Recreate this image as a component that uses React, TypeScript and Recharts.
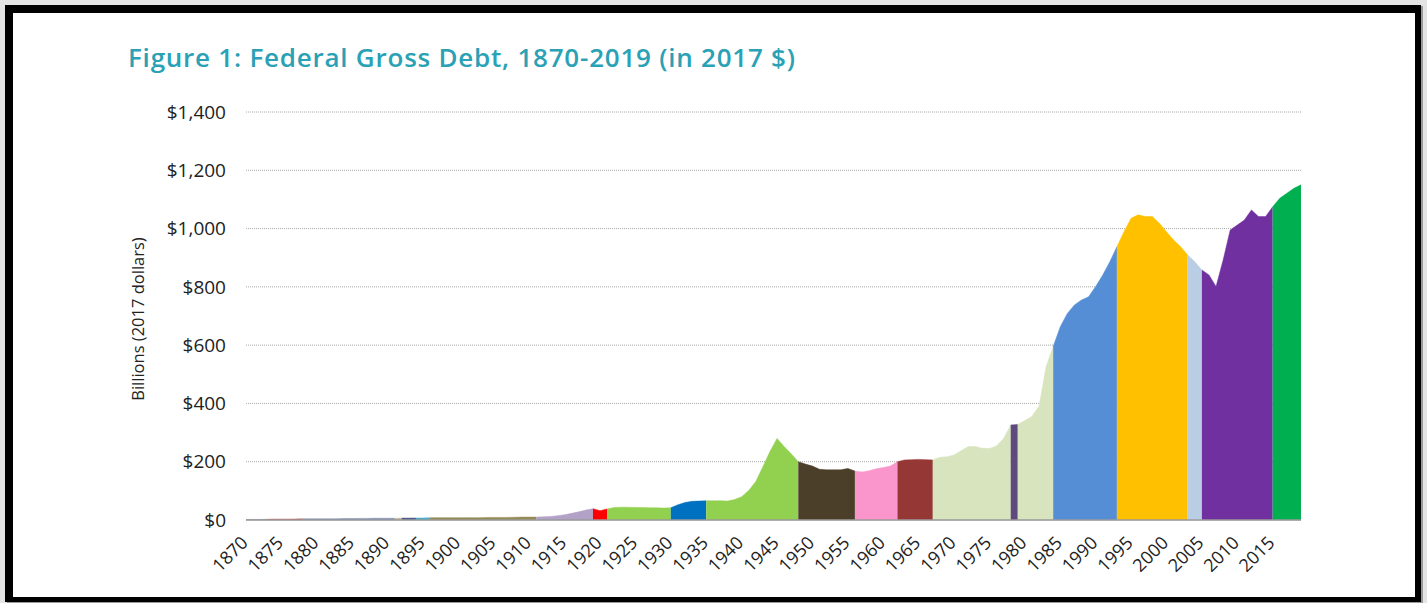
import React from 'react';
import { AreaChart, Area, XAxis, YAxis, CartesianGrid } from 'recharts';

// Federal gross debt, billions of 2017 dollars, one value per year from 1870 to 2019
const firstYear = 1870;
const debt: number[] = [
  // 1870-1879
  2, 2, 2, 2.5, 3, 3, 3, 3.5, 4, 4,
  // 1880-1889
  4, 4, 4, 4.5, 5, 5, 5.5, 5.5, 6, 6,
  // 1890-1899
  6, 6, 6.5, 6.5, 7, 7, 8, 8, 8, 8,
  // 1900-1909
  8, 8, 8, 8, 8.5, 9, 9, 9, 9.5, 10,
  // 1910-1919
  10, 10, 11, 12, 15, 18, 23, 28, 34, 39,
  // 1920-1929
  32, 38, 43, 44, 44, 43, 43, 42, 42, 41,
  // 1930-1939
  42, 52, 60, 64, 65, 66, 66, 66, 65, 70,
  // 1940-1949
  80, 101, 132, 183, 235, 280, 252, 227, 200, 192,
  // 1950-1959
  185, 174, 172, 172, 172, 177, 168, 165, 169, 176,
  // 1960-1969
  180, 185, 200, 206, 207, 208, 207, 206, 215, 217,
  // 1970-1979
  223, 238, 252, 252, 246, 245, 254, 280, 326, 328,
  // 1980-1989
  341, 356, 390, 526, 595, 663, 709, 738, 755, 766,
  // 1990-1999
  801, 841, 886, 938, 989, 1035, 1047, 1041, 1041, 1018,
  // 2000-2009
  989, 961, 938, 909, 886, 858, 841, 801, 892, 995,
  // 2010-2019
  1012, 1029, 1064, 1041, 1041, 1075, 1104, 1121, 1138, 1150,
];
const years: number[] = debt.map((_, i) => firstYear + i);

// Coloured periods (start year of each period; each period runs to the next start)
const periodStarts: number[] = [
  1870, 1873, 1878, 1891, 1892, 1894, 1896, 1911, 1919, 1921, 1930, 1935,
  1948, 1956, 1962, 1967, 1978, 1979, 1984, 1993, 2003, 2005, 2015,
];
const periodColors: string[] = [
  '#8A97AE', '#C0504D', '#7F8FB0', '#C4BD97', '#4F5A8C', '#4BACC6', '#948A54', '#B3A2C7',
  '#FF0000', '#92D050', '#0070C0', '#92D050', '#4B3F2A', '#FA96CC', '#953735', '#D7E4BD',
  '#5F4A7E', '#D7E4BD', '#558ED5', '#FFC000', '#B9CDE5', '#7030A0', '#00B050',
];
const lastYear = 2019;

const xTicks: number[] = [
  1870, 1875, 1880, 1885, 1890, 1895, 1900, 1905, 1910, 1915, 1920, 1925, 1930,
  1935, 1940, 1945, 1950, 1955, 1960, 1965, 1970, 1975, 1980, 1985, 1990, 1995,
  2000, 2005, 2010, 2015,
];
const yTicks: number[] = [0, 200, 400, 600, 800, 1000, 1200, 1400];

const titleText = 'Figure 1: Federal Gross Debt, 1870-2019 (in 2017 $)';
const yLabelText = 'Billions (2017 dollars)';

const FONT = '"Open Sans", "Noto Sans", sans-serif';

const data = years.map((year, i) => {
  const row: Record<string, number | null> = { year };
  periodStarts.forEach((start, k) => {
    const end = k + 1 < periodStarts.length ? periodStarts[k + 1] : lastYear;
    row[`p${k}`] = year >= start && year <= end ? debt[i] : null;
  });
  return row;
});

const XTick = (props: any) => {
  const { x, y, payload } = props;
  const ax = x + 3;
  const ay = y + 16;
  return (
    <text
      x={ax}
      y={ay}
      transform={`rotate(-45, ${ax}, ${ay})`}
      textAnchor="end"
      fontSize={18}
      fontFamily={FONT}
      fill="#222"
    >
      {payload.value}
    </text>
  );
};

const YLabel = (props: any) => {
  const vb = props.viewBox || { x: 0, y: 112, width: 246, height: 408 };
  const cx = vb.x + 137;
  const cy = vb.y + vb.height / 2 + 3;
  return (
    <text
      x={cx}
      y={cy}
      transform={`rotate(-90, ${cx}, ${cy})`}
      textAnchor="middle"
      dominantBaseline="central"
      fontSize={16.5}
      fontFamily={FONT}
      fill="#222"
    >
      {yLabelText}
    </text>
  );
};

export default function App() {
  return (
    <div
      style={{
        position: 'absolute',
        left: 0,
        top: 0,
        width: 1427,
        height: 603,
        background: '#e4e4e4',
        overflow: 'hidden',
      }}
    >
      <div
        style={{
          position: 'absolute',
          left: 5,
          top: 5,
          width: 1416 - 8 - 6,
          height: 597 - 8 - 5,
          borderTop: '8px solid #000',
          borderLeft: '8px solid #000',
          borderRight: '6px solid #000',
          borderBottom: '5px solid #000',
          background: '#fff',
          boxShadow: '2px 1px 0 #9a9a9a',
        }}
      />
      <svg
        width={1427}
        height={603}
        style={{ position: 'absolute', left: 0, top: 0 }}
      >
        <text
          x={128}
          y={67}
          fontSize={26}
          fontWeight={600}
          fontFamily={FONT}
          fill="#2AA1B5"
          textLength={667}
          lengthAdjust="spacing"
        >
          {titleText}
        </text>
      </svg>
      <div style={{ position: 'absolute', left: 0, top: 0 }}>
        <AreaChart
          width={1427}
          height={603}
          data={data}
          margin={{ top: 112, right: 126, bottom: 0, left: 0 }}
        >
          <CartesianGrid
            vertical={false}
            stroke="#a8a8a8"
            strokeDasharray="1 1"
          />
          <XAxis
            dataKey="year"
            type="number"
            domain={[1870, 2019]}
            ticks={xTicks}
            interval={0}
            height={83}
            tickLine={false}
            axisLine={{ stroke: '#9a9a9a', strokeWidth: 1.5 }}
            tick={<XTick />}
            allowDataOverflow
          />
          <YAxis
            width={246}
            domain={[0, 1400]}
            ticks={yTicks}
            interval={0}
            tickLine={false}
            axisLine={false}
            tickMargin={14}
            tick={{ fontSize: 19, fontFamily: FONT, fill: '#222' }}
            tickFormatter={(v: number) => `$${v.toLocaleString('en-US')}`}
            label={<YLabel />}
          />
          {periodStarts.map((s, k) => (
            <Area
              key={s}
              dataKey={`p${k}`}
              type="linear"
              fill={periodColors[k]}
              fillOpacity={1}
              stroke={periodColors[k]}
              strokeWidth={0.5}
              connectNulls={false}
              dot={false}
              activeDot={false}
              isAnimationActive={false}
            />
          ))}
        </AreaChart>
      </div>
    </div>
  );
}
